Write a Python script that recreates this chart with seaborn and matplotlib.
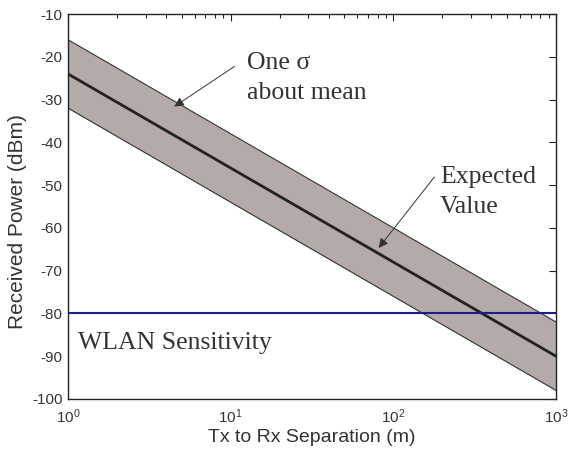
import matplotlib
matplotlib.use("Agg")
import matplotlib.pyplot as plt
import seaborn as sns
import pandas as pd
import numpy as np

# Data
distance_m = [1, 10, 100, 1000]
mean_dbm = [-24, -46, -68, -90]
sigma_db = 8
wlan_sens_dbm = [-80, -80, -80, -80]
x_ticks = [1, 10, 100, 1000]
y_ticks = [-100, -90, -80, -70, -60, -50, -40, -30, -20, -10]

sns.set_theme(style="white")
plt.rcParams['font.family'] = ['Liberation Sans', 'DejaVu Sans']

df = pd.DataFrame({"d": distance_m, "mean": mean_dbm,
                   "upper": [m + sigma_db for m in mean_dbm],
                   "lower": [m - sigma_db for m in mean_dbm],
                   "wlan": wlan_sens_dbm})

fig = plt.figure(figsize=(5.68, 4.49), dpi=100)
ax = fig.add_axes([0.1197, 0.1114, 0.8592, 0.8574])

ax.fill_between(df["d"], df["lower"], df["upper"], color="#b4aaa7", zorder=1, linewidth=0)
sns.lineplot(data=df, x="d", y="upper", ax=ax, color="#333333", linewidth=0.8, zorder=2)
sns.lineplot(data=df, x="d", y="lower", ax=ax, color="#333333", linewidth=0.8, zorder=2)
sns.lineplot(data=df, x="d", y="mean", ax=ax, color="#222222", linewidth=2.0, zorder=3)
sns.lineplot(data=df, x="d", y="wlan", ax=ax, color="#1c1c8a", linewidth=1.5, zorder=4)

ax.set_xscale("log")
ax.set_xlim(1, 1000)
ax.set_ylim(-100, -10)
ax.set_yticks(y_ticks)
ax.set_yticklabels([str(v) for v in y_ticks])
ax.set_xticks(x_ticks)
ax.set_xticklabels([r"$\mathregular{10^{%d}}$" % int(np.log10(v)) for v in x_ticks])

ax.tick_params(axis="both", which="both", direction="in", top=True, right=True,
               labelsize=11, colors="#333333", pad=4)
ax.tick_params(axis="x", which="major", pad=6)
ax.tick_params(axis="both", which="major", length=5, width=0.8, color="#222222")
ax.tick_params(axis="x", which="minor", length=3, width=0.8, color="#222222")
ax.minorticks_on()
ax.yaxis.set_minor_locator(matplotlib.ticker.NullLocator())
for s in ax.spines.values():
    s.set_color("#222222")
    s.set_linewidth(1.0)

ax.set_xlabel("Tx to Rx Separation (m)", fontsize=14, color="#333333", labelpad=2)
ax.set_ylabel("Received Power (dBm)", fontsize=15, color="#333333")
ax.yaxis.set_label_coords(-0.084, 0.461)

serif = ['Liberation Serif', 'DejaVu Serif']
ax.annotate("", xy=(4.36, -32.0), xytext=(10.9, -21.9),
            arrowprops=dict(arrowstyle="-|>", color="#333333", lw=0.7, mutation_scale=14))
ax.text(12.6, -25.0, "One σ\nabout mean", family=serif, fontsize=18.5, color="#333333",
        va="center", ha="left", linespacing=1.45)
ax.annotate("", xy=(79.3, -65.2), xytext=(183, -47.6),
            arrowprops=dict(arrowstyle="-|>", color="#333333", lw=0.7, mutation_scale=14))
ax.text(193, -51.6, "Expected\nValue", family=serif, fontsize=18.5, color="#333333",
        va="center", ha="left", linespacing=1.45)
ax.text(1.15, -86.8, "WLAN Sensitivity", family=serif, fontsize=18.5, color="#333333",
        va="center", ha="left")

fig.savefig("out.png", dpi=100)
